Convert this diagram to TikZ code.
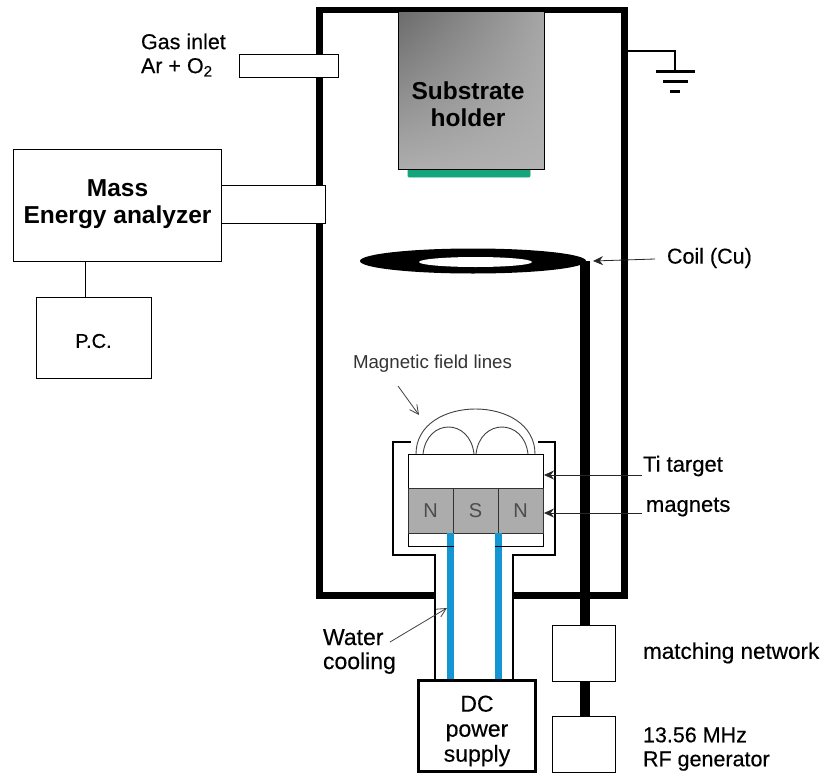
\documentclass[tikz,border=0pt]{standalone}
\usepackage{fontspec}
\setmainfont{Liberation Sans}
\newfontfamily\medfont[FakeBold=0.35]{Liberation Sans}
\usetikzlibrary{positioning}
\usetikzlibrary{arrows.meta}
\usetikzlibrary{shapes.geometric}
\usetikzlibrary{shadings}
\definecolor{watercolor}{RGB}{20,150,210}
\definecolor{samplecolor}{RGB}{20,165,125}
\definecolor{magnetcolor}{RGB}{172,172,172}
\tikzset{
  plainbox/.style={draw, fill=white, line width=.9pt, inner sep=0pt, outer sep=0pt},
  magnetbox/.style={plainbox, fill=magnetcolor, draw=black!80, font=\fontsize{20}{20}\selectfont, text=black!70},
  wall/.style={line width=6.5pt},
  shield/.style={line width=2.2pt},
  pointer/.style={-{Stealth[length=10pt, width=9pt]}, line width=.8pt, black!85},
  thinpointer/.style={-{Straight Barb[length=9pt, width=9pt]}, line width=.8pt, black!75},
  label/.style={inner sep=0pt, outer sep=0pt, align=center, font=\fontsize{21.5}{24}\selectfont\medfont},
  boldlabel/.style={label, font=\fontsize{24.5}{27.5}\selectfont\bfseries}
}
\begin{document}
\begin{tikzpicture}[x=1pt, y=-1pt]
\useasboundingbox (0, 0) rectangle (825, 774);
\coordinate (wallgapl) at (435, 595.5);
\coordinate (wallgapr) at (513, 595.5);
\coordinate (wallbl) at (319.5, 595.5);
\coordinate (walltl) at (319.5, 10);
\coordinate (walltr) at (624.5, 10);
\coordinate (wallbr) at (624.5, 595.5);
\draw[wall] (wallgapl) -- (wallbl) -- (walltl) -- (walltr) -- (wallbr) -- (wallgapr);
\node[plainbox, minimum width=99pt, minimum height=23pt] (inlet) at (288.5, 65.5) {};
\node[plainbox, minimum width=104pt, minimum height=38pt] (tube) at (273, 204) {};
\node[plainbox, minimum width=208pt, minimum height=112pt] (analyzer) at (117, 205) {};
\node[boldlabel] (analyzerlabel) at (117.5, 204) {Mass\\Energy analyzer};
\node[plainbox, minimum width=115pt, minimum height=81pt] (pc) at (93.5, 337.5) {};
\node[label, font=\fontsize{20}{24}\selectfont\medfont] (pclabel) at (93.5, 341) {P.C.};
\coordinate (pclink) at (85, 261);
\draw[line width=.8pt] (pclink) -- (pclink |- pc.north);
\node[plainbox, minimum width=122pt, minimum height=9pt, fill=samplecolor, draw=samplecolor, rounded corners=1pt] (sample) at (469, 172.5) {};
\node[plainbox, minimum width=146pt, minimum height=158pt, lower left=black!32, upper left=black!58, upper right=black!35, lower right=black!30] (holder) at (471, 90) {};
\node[boldlabel] (holderlabel) at (468, 104) {Substrate\\holder};
\node[fill=black, ellipse, minimum width=226pt, minimum height=25pt, inner sep=0pt] (coil) at (473, 261) {};
\node[fill=white, ellipse, minimum width=113pt, minimum height=10pt, inner sep=0pt] (coilhole) at (475.5, 262) {};
\coordinate (leadtop) at (585, 261);
\coordinate (leadbot) at (585, 716);
\draw[line width=9.5pt] (leadtop) -- (leadbot);
\node[plainbox, minimum width=63pt, minimum height=56pt] (matching) at (583.5, 653) {};
\node[plainbox, minimum width=63pt, minimum height=56pt] (rfgen) at (583.5, 744) {};
\coordinate (gndtop) at (628, 51);
\coordinate (gndcorner) at (675, 51);
\coordinate (gndbar) at (675, 71);
\draw[line width=2pt] (gndtop) -- (gndcorner) -- (gndbar);
\draw[line width=3pt] (656, 71.5) -- (695, 71.5);
\draw[line width=3pt] (663, 81) -- (688, 81);
\draw[line width=3pt] (670, 91) -- (680, 91);
\draw[shield] (411, 442) -- (393, 442) -- (393, 555) -- (435, 555) -- (435, 680);
\draw[shield] (538, 442) -- (555, 442) -- (555, 555) -- (513, 555) -- (513, 680);
\fill[watercolor] (447, 533) rectangle (454, 680);
\fill[watercolor] (495, 533) rectangle (502, 680);
\node[plainbox, minimum width=135pt, minimum height=34pt] (target) at (475.5, 471) {};
\node[plainbox, minimum width=135pt, minimum height=13pt] (backing) at (475.5, 539.5) {};
\node[magnetbox, minimum width=45pt, minimum height=45pt] (magnetl) at (430.5, 510.5) {N};
\node[magnetbox, minimum width=45pt, minimum height=45pt, right=0pt of magnetl] (magnetc) {S};
\node[magnetbox, minimum width=45pt, minimum height=45pt, right=0pt of magnetc] (magnetr) {N};
\fill[watercolor] (447, 533) rectangle (454, 546);
\fill[watercolor] (495, 533) rectangle (502, 546);
\fill[white] (454, 533.5) rectangle (495, 680);
\draw[line width=.9pt, black!75] (416, 454) .. controls (416, 394) and (535, 394) .. (535, 454);
\draw[line width=.9pt, black!75] (423, 454) .. controls (427, 418) and (470, 418) .. (474, 454);
\draw[line width=.9pt, black!75] (476, 454) .. controls (480, 418) and (524, 418) .. (528, 454);
\node[plainbox, line width=3pt, minimum width=117pt, minimum height=91pt] (dcsupply) at (477, 726) {};
\node[label, font=\fontsize{23}{25}\selectfont\medfont] (dclabel) at (477, 731) {DC\\power\\supply};
\node[label, anchor=west, align=left] (inletlabel) at (141, 55) {Gas inlet\\Ar + O\textsubscript{2}};
\node[label, anchor=west, font=\fontsize{18.7}{22}\selectfont\color{black!80}] (fieldlabel) at (353, 364) {Magnetic field lines};
\node[label, anchor=west] (coillabel) at (667, 258) {Coil (Cu)};
\node[label, anchor=west, font=\fontsize{22}{24}\selectfont\medfont] (targetlabel) at (643, 466) {Ti target};
\node[label, anchor=west, font=\fontsize{22}{24}\selectfont\medfont] (magnetlabel) at (646, 507) {magnets};
\node[label, anchor=west, align=left, font=\fontsize{23}{24}\selectfont\medfont] (waterlabel) at (323, 651.5) {Water\\cooling};
\node[label, anchor=west, font=\fontsize{22.5}{24}\selectfont\medfont] (matchinglabel) at (643, 653) {matching network};
\node[label, anchor=west, align=left] (rflabel) at (643, 749) {13.56 MHz\\RF generator};
\coordinate (coiltip) at (593, 261);
\coordinate (coiltail) at (655, 259);
\coordinate (targettip) at (544, 475);
\coordinate (targettail) at (642, 475);
\coordinate (magnettip) at (544, 513);
\coordinate (magnettail) at (642, 513);
\coordinate (watertip) at (447, 608);
\coordinate (watertail) at (390, 642);
\coordinate (fieldtip) at (419, 415);
\coordinate (fieldtail) at (398, 386);
\draw[pointer] (coiltail) -- (coiltip);
\draw[pointer] (targettail) -- (targettip);
\draw[pointer] (magnettail) -- (magnettip);
\draw[thinpointer] (watertail) -- (watertip);
\draw[thinpointer] (fieldtail) -- (fieldtip);
\end{tikzpicture}
\end{document}
